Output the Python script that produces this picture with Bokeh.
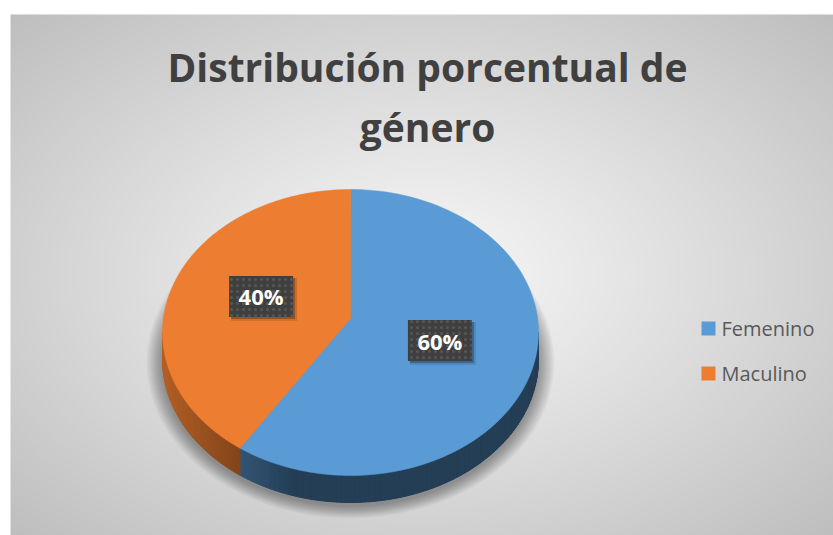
import numpy as np
from bokeh.plotting import figure
from bokeh.models import Range1d
from bokeh.core.properties import value
from bokeh.embed import file_html
from bokeh.resources import INLINE

# ---------------- data ----------------
categories = ["Femenino", "Maculino"]
percentages = [60, 40]
colors = ["#5b9bd5", "#ed7d31"]
title_lines = ["Distribución porcentual de", "género"]

# ---------------- figure (screen-pixel coordinates) ----------------
W, H = 833, 535
p = figure(width=W, height=H, x_range=Range1d(0, W), y_range=Range1d(0, H),
           output_backend="svg", toolbar_location=None, min_border=0,
           x_axis_type=None, y_axis_type=None)
p.grid.visible = False
p.outline_line_color = None
p.background_fill_color = "white"
p.border_fill_color = "white"


def Y(sy):
    return H - np.asarray(sy, dtype=float)


# ---------------- radial gradient background ----------------
bx0, by0, bx1, by1 = 10, 14, 833, 535
nx, ny = bx1 - bx0, by1 - by0
gx = np.arange(nx) + 0.5
gy = np.arange(ny) + 0.5
GX, GY = np.meshgrid(gx, gy)
rr = np.sqrt(((GX - nx / 2) / (nx / 2)) ** 2 + ((GY - ny / 2) / (ny / 2)) ** 2) / np.sqrt(2)
gval = 247 - (247 - 190) * np.clip(rr, 0, 1) ** 1.1
img = np.empty((ny, nx), dtype=np.uint32)
view = img.view(dtype=np.uint8).reshape((ny, nx, 4))
view[..., 0] = gval.astype(np.uint8)
view[..., 1] = gval.astype(np.uint8)
view[..., 2] = gval.astype(np.uint8)
view[..., 3] = 255
p.image_rgba(image=[img], x=bx0, y=float(Y(by1)), dw=nx, dh=ny)

# ---------------- pie geometry ----------------
cx, cy = 350.0, 332.0      # ellipse centre (screen)
rx, ry = 188.0, 143.0
apex_y = 318.0             # perspective apex of wedges
depth = 27.0

def ell(theta_deg, dy=0.0):
    t = np.radians(theta_deg)
    return cx + rx * np.sin(t), cy - ry * np.cos(t) + dy

total = float(sum(percentages))
bounds = [0.0]
for v in percentages:
    bounds.append(bounds[-1] + 360.0 * v / total)

# soft shadow under the pie
for k in range(16, 0, -1):
    t = np.linspace(0, 360, 200)
    sx = cx + (rx + k) * np.sin(np.radians(t))
    sy = cy + depth + 3 - (ry + k * 0.8) * np.cos(np.radians(t))
    p.patch(sx, Y(sy), fill_color="black", fill_alpha=0.022, line_color=None)

# side of the pie (visible from 90 to 270 degrees)
def hex_to_rgb(h):
    h = h.lstrip("#")
    return tuple(int(h[i:i + 2], 16) for i in (0, 2, 4))

side_xs, side_ys, side_cols = [], [], []
step = 1.5
th = 90.0
while th < 270.0 - 1e-9:
    t0, t1 = th, min(th + step, 270.0)
    mid = (t0 + t1) / 2
    idx = 0
    for i in range(len(percentages)):
        if bounds[i] <= mid < bounds[i + 1]:
            idx = i
    xn = np.sin(np.radians(mid))
    shade = 0.40 + 0.36 * np.clip((-xn - 0.3) / 0.7, 0, 1)
    r, g, b = hex_to_rgb(colors[idx])
    col = "#%02x%02x%02x" % (int(r * shade), int(g * shade), int(b * shade))
    xa, ya = ell(t0)
    xb, yb = ell(t1)
    side_xs.append([xa, xb, xb, xa])
    side_ys.append(list(Y([ya, yb, yb + depth, ya + depth])))
    side_cols.append(col)
    th = t1
p.patches(side_xs, side_ys, fill_color=side_cols, line_color=side_cols, line_width=1)

# top wedges
for i in range(len(percentages)):
    t = np.linspace(bounds[i], bounds[i + 1], 120)
    ex, ey = ell(t)
    px = np.concatenate([[cx], ex])
    py = np.concatenate([[apex_y], ey])
    p.patch(px, Y(py), fill_color=colors[i], line_color=colors[i], line_width=0.5)

# ---------------- data labels ----------------
bw, bh = 64, 41
for i, v in enumerate(percentages):
    mid = (bounds[i] + bounds[i + 1]) / 2
    lx = cx + 0.5 * rx * np.sin(np.radians(mid))
    ly = apex_y - 0.5 * ry * np.cos(np.radians(mid))
    # shadow
    p.rect(lx + 3, float(Y(ly + 3)), bw + 2, bh + 2, fill_color="black", fill_alpha=0.12, line_color=None)
    p.rect(lx + 2, float(Y(ly + 2)), bw, bh, fill_color="black", fill_alpha=0.25, line_color=None)
    p.rect(lx, float(Y(ly)), bw, bh, fill_color="#3f3f3f", line_color=None,
           hatch_pattern="dot", hatch_color="#575757", hatch_scale=6, hatch_weight=1.5)
    p.text(x=[lx], y=[float(Y(ly))], text=["%d%%" % v], text_color="white",
           text_font=value("Open Sans"), text_font_style="bold", text_font_size="22px",
           text_align="center", text_baseline="middle")

# ---------------- title ----------------
p.text(x=[427, 427], y=list(Y([66, 126])), text=title_lines, text_color="#404040",
       text_font=value("Open Sans"), text_font_style="bold", text_font_size="39px",
       text_align="center", text_baseline="alphabetic")

# ---------------- legend ----------------
leg_y = [328, 373]
for i, c in enumerate(categories):
    p.rect(708, float(Y(leg_y[i])), 14, 14, fill_color=colors[i], line_color=None)
    p.text(x=[721], y=[float(Y(leg_y[i]))], text=[c], text_color="#595959",
           text_font=value("Open Sans"), text_font_size="20px",
           text_align="left", text_baseline="middle")

open("out.html", "w").write(file_html(p, INLINE))
